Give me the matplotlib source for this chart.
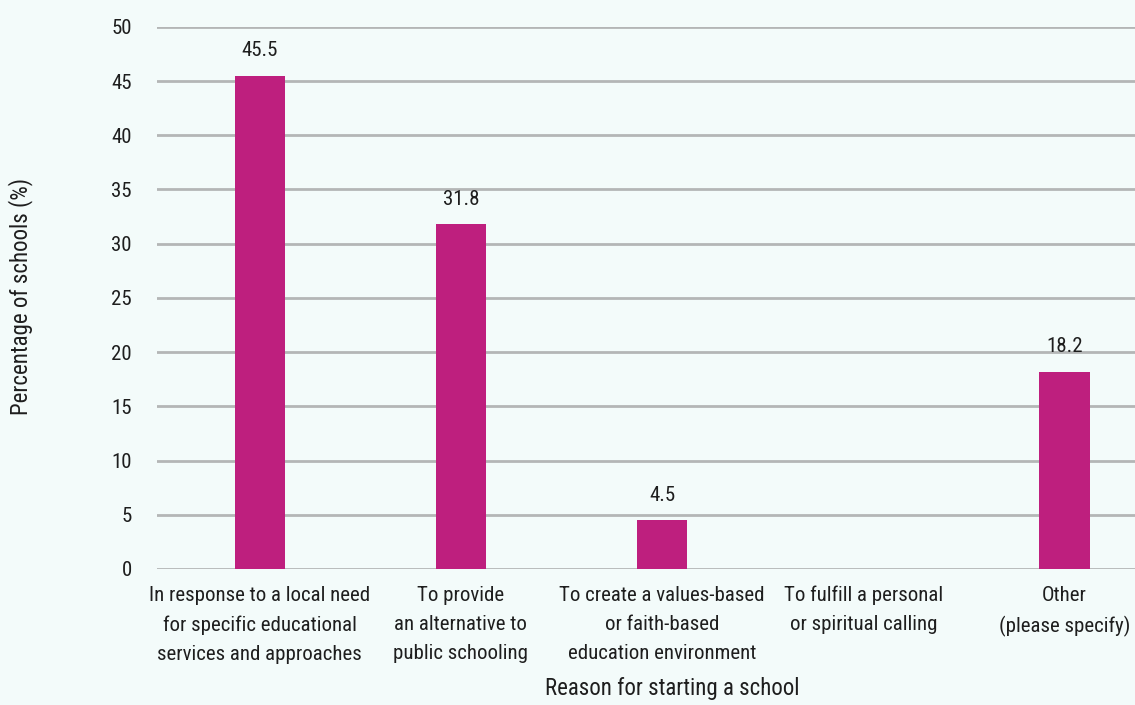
import matplotlib
matplotlib.use("Agg")
import matplotlib.pyplot as plt
from matplotlib import font_manager

# prefer a narrow face; fall back to Roboto set a bit smaller
names = {f.name for f in font_manager.fontManager.ttflist}
narrow = [n for n in ("Roboto Condensed", "Liberation Sans Narrow", "Open Sans Condensed",
                      "Noto Sans Condensed", "DejaVu Sans Condensed") if n in names]
if narrow:
    FONT, FS = narrow[0], 15
else:
    FONT, FS = "Roboto", 13.5
plt.rcParams["font.family"] = [FONT, "DejaVu Sans"]

BG = "#f3fbfa"
BAR = "#be1f7e"
GRID = "#b4b6b6"
TEXT = "#1e1e1e"

reasons = [
    "In response to a local need\nfor specific educational\nservices and approaches",
    "To provide\nan alternative to\npublic schooling",
    "To create a values-based\nor faith-based\neducation environment",
    "To fulfill a personal\nor spiritual calling",
    "Other\n(please specify)",
]
pct = [45.5, 31.8, 4.5, 0.0, 18.2]
yticks = [0, 5, 10, 15, 20, 25, 30, 35, 40, 45, 50]

fig = plt.figure(figsize=(11.35, 7.05), dpi=100, facecolor=BG)
ax = fig.add_axes([0.138, 0.193, 0.862, 0.769], facecolor=BG)

x = list(range(len(reasons)))
ax.bar(x, pct, width=0.25, color=BAR, zorder=3)
for xi, v in zip(x, pct):
    if v > 0:
        ax.text(xi, v + 1.4, f"{v:.1f}", ha="center", va="bottom",
                fontsize=FS, color=TEXT, zorder=4)

ax.set_xlim(-0.512, 4.35)
ax.set_ylim(0, 50)
ax.set_yticks(yticks)
ax.yaxis.grid(True, color=GRID, linewidth=2, zorder=0)
ax.set_axisbelow(True)
for s in ax.spines.values():
    s.set_visible(False)
ax.tick_params(axis="both", length=0, labelsize=FS, colors=TEXT)
ax.tick_params(axis="y", pad=18)
ax.tick_params(axis="x", pad=12)
ax.set_xticks(x)
ax.set_xticklabels(reasons, linespacing=1.68)

ax.set_xlabel("Reason for starting a school", fontsize=FS * 1.1, color=TEXT)
ax.xaxis.set_label_coords(0.527, -0.2)
fig.text(0.018, 0.58, "Percentage of schools (%)", rotation=90, ha="center",
         va="center", fontsize=FS * 1.1, color=TEXT)

fig.savefig("out.png", dpi=100, facecolor=BG)
